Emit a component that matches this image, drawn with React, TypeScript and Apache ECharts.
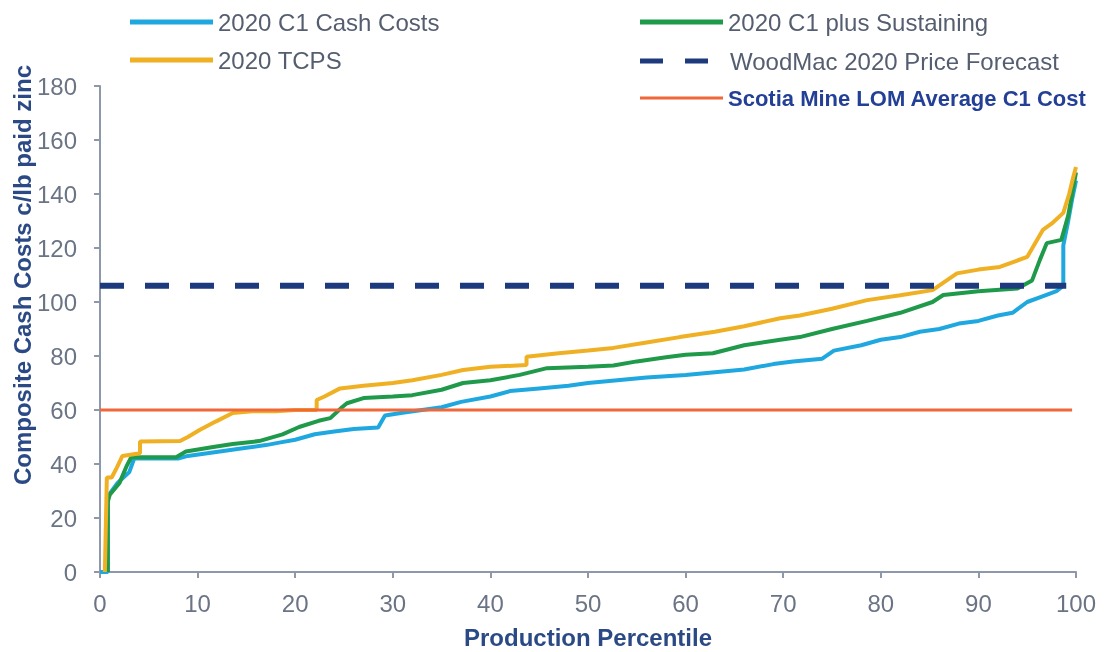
import React, { useEffect, useRef } from "react";
import * as echarts from "echarts";

const xTickMin = 0;
const xTickMax = 100;
const yTickMin = 0;
const yTickMax = 180;

const seriesNames = [
  "2020 C1 Cash Costs",
  "2020 C1 plus Sustaining",
  "2020 TCPS",
  "WoodMac 2020 Price Forecast",
  "Scotia Mine LOM Average C1 Cost",
];

const c1CashCosts: [number, number][] = [
  [0, 0], [0.8, 0], [0.8, 28], [1.2, 30], [1.8, 33], [2.4, 35], [3.0, 37], [3.5, 42], [8.0, 42], [9.0, 43],
  [11, 44], [13, 45], [15, 46], [17, 47], [18.5, 48], [20, 49], [22, 51], [24, 52], [26, 53], [28.5, 53.5],
  [29.2, 58], [31, 59], [33, 60], [35, 61], [37, 63], [40, 65], [42, 67], [45, 68], [48, 69], [50, 70],
  [53, 71], [56, 72], [60, 73], [63, 74], [66, 75], [69, 77], [71, 78], [74, 79], [75.2, 82], [78, 84],
  [80, 86], [82, 87], [84, 89], [86, 90], [88, 92], [90, 93], [92, 95], [93.5, 96], [95, 100], [96.5, 102],
  [98, 104], [98.7, 106], [98.7, 121], [99.2, 130], [99.6, 138], [100, 145],
];

const c1PlusSustaining: [number, number][] = [
  [0.8, 0], [0.8, 26], [1.0, 28.6], [2.0, 33], [2.7, 39], [3.2, 42.5], [7.8, 42.5], [8.8, 44.6], [11.6, 46.3],
  [13.6, 47.4], [16.3, 48.5], [18.7, 51], [20.4, 53.7], [22.4, 56], [23.6, 57], [24.8, 61], [25.3, 62.5],
  [27, 64.4], [30, 65], [32, 65.5], [35, 67.5], [37.2, 70], [40, 71], [43, 73], [45.8, 75.5], [50, 76],
  [52.6, 76.5], [55, 78], [58, 79.5], [60, 80.5], [62.8, 81], [66, 84], [69.7, 86], [71.7, 87], [75, 90],
  [78.6, 93], [82, 96], [85.3, 100], [86.4, 102.6], [90, 104], [94, 105], [95.5, 108], [96.3, 115.6],
  [97, 121.8], [98.5, 123], [99.2, 132], [99.6, 140], [100, 148],
];

const tcps: [number, number][] = [
  [0.5, 0], [0.7, 35], [1.2, 35], [1.7, 38.5], [2.3, 43], [4.1, 44], [4.1, 48.3], [8.2, 48.5], [9, 50],
  [10.2, 52.6], [11.9, 55.8], [13.6, 58.9], [15.6, 59.5], [18, 59.5], [20, 60], [22.2, 60], [22.2, 63.7],
  [23, 65], [24.6, 68], [27, 69], [30, 70], [32, 71], [35, 73], [37.2, 74.8], [40, 76], [43.7, 76.7],
  [43.7, 79.7], [47, 81], [50, 82], [52.6, 83], [56, 85], [59.4, 87], [63, 89], [66, 91], [69.7, 94],
  [71.7, 95], [75, 97.5], [78.6, 100.7], [82, 102.5], [85.3, 104.4], [87.8, 110.6], [90, 112], [92.2, 113],
  [95, 116.7], [96.6, 126.7], [97.5, 129], [98.7, 133], [99.3, 140], [99.7, 146], [100, 150],
];

const woodMacForecast: [number, number][] = [[0, 106], [99, 106]];
const scotiaLomC1: [number, number][] = [[0, 60], [99.6, 60]];

const FONT = "'Liberation Sans', Arial, sans-serif";
const LEGEND_TEXT = { fontSize: 24, color: "#555e70", fontFamily: FONT };
const DASH_ICON = "path://M0,0H23V5H0Z M45,0H68V5H45Z M84.8,2.45H85V2.55H84.8Z";

export default function App() {
  const ref = useRef<HTMLDivElement>(null);
  useEffect(() => {
    const chart = echarts.init(ref.current!, null, { renderer: "svg" });
    const curve = (name: string, data: [number, number][], color: string) => ({
      name,
      type: "line",
      data,
      symbol: "none",
      color,
      lineStyle: { color, width: 4 },
    });
    const legendBase = {
      orient: "vertical",
      icon: "rect",
      itemWidth: 83,
      itemHeight: 5,
      itemStyle: { borderWidth: 0 },
      textStyle: LEGEND_TEXT,
    };
    chart.setOption({
      animation: false,
      textStyle: { fontFamily: FONT },
      grid: { left: 100, right: 31, top: 86, bottom: 80, outerBoundsMode: "none", containLabel: false },
      legend: [
        { ...legendBase, left: 125, top: 5, itemGap: 14, data: [seriesNames[0], seriesNames[2]] },
        { ...legendBase, left: 635, top: 5, data: [seriesNames[1]] },
        { ...legendBase, left: 635, top: 44, icon: DASH_ICON, itemWidth: 85, data: [seriesNames[3]] },
        {
          ...legendBase, left: 635, top: 82, itemHeight: 3, data: [seriesNames[4]],
          textStyle: { fontSize: 22, fontWeight: "bold", color: "#233f96", fontFamily: FONT },
        },
      ],
      xAxis: {
        type: "value", min: xTickMin, max: xTickMax, interval: 10,
        name: "Production Percentile", nameLocation: "middle", nameGap: 53,
        nameTextStyle: { fontSize: 24, fontWeight: "bold", color: "#2b4a85", fontFamily: FONT },
        axisLine: { lineStyle: { color: "#8d98ab", width: 2 } },
        axisTick: { show: true, length: 6, lineStyle: { color: "#8d98ab", width: 2 } },
        axisLabel: { fontSize: 24, color: "#6b7485", margin: 19, fontFamily: FONT },
        splitLine: { show: false },
      },
      yAxis: {
        type: "value", min: yTickMin, max: yTickMax, interval: 20,
        axisLine: { show: true, lineStyle: { color: "#8d98ab", width: 2 } },
        axisTick: { show: true, length: 6, lineStyle: { color: "#8d98ab", width: 2 } },
        axisLabel: { fontSize: 24, color: "#6b7485", margin: 23, fontFamily: FONT },
        splitLine: { show: false },
      },
      graphic: [
        {
          type: "text", x: 22, y: 275, rotation: Math.PI / 2,
          style: {
            text: "Composite Cash Costs c/lb paid zinc", fontSize: 24, fontWeight: "bold",
            fill: "#2b4a85", fontFamily: FONT, align: "center", verticalAlign: "middle",
          },
        },
      ],
      series: [
        curve(seriesNames[0], c1CashCosts, "#1fa8e0"),
        curve(seriesNames[1], c1PlusSustaining, "#1f9a4a"),
        curve(seriesNames[2], tcps, "#f0b023"),
        {
          name: seriesNames[4], type: "line", data: scotiaLomC1, symbol: "none", color: "#f0673a",
          lineStyle: { color: "#f0673a", width: 3 },
        },
        {
          name: seriesNames[3], type: "line", data: woodMacForecast, symbol: "none", color: "#1c3a7c",
          lineStyle: { color: "#1c3a7c", width: 6, type: [24, 21] },
        },
      ],
    });
    return () => chart.dispose();
  }, []);
  return <div ref={ref} style={{ position: "fixed", left: 0, top: 0, width: 1107, height: 652 }} />;
}
